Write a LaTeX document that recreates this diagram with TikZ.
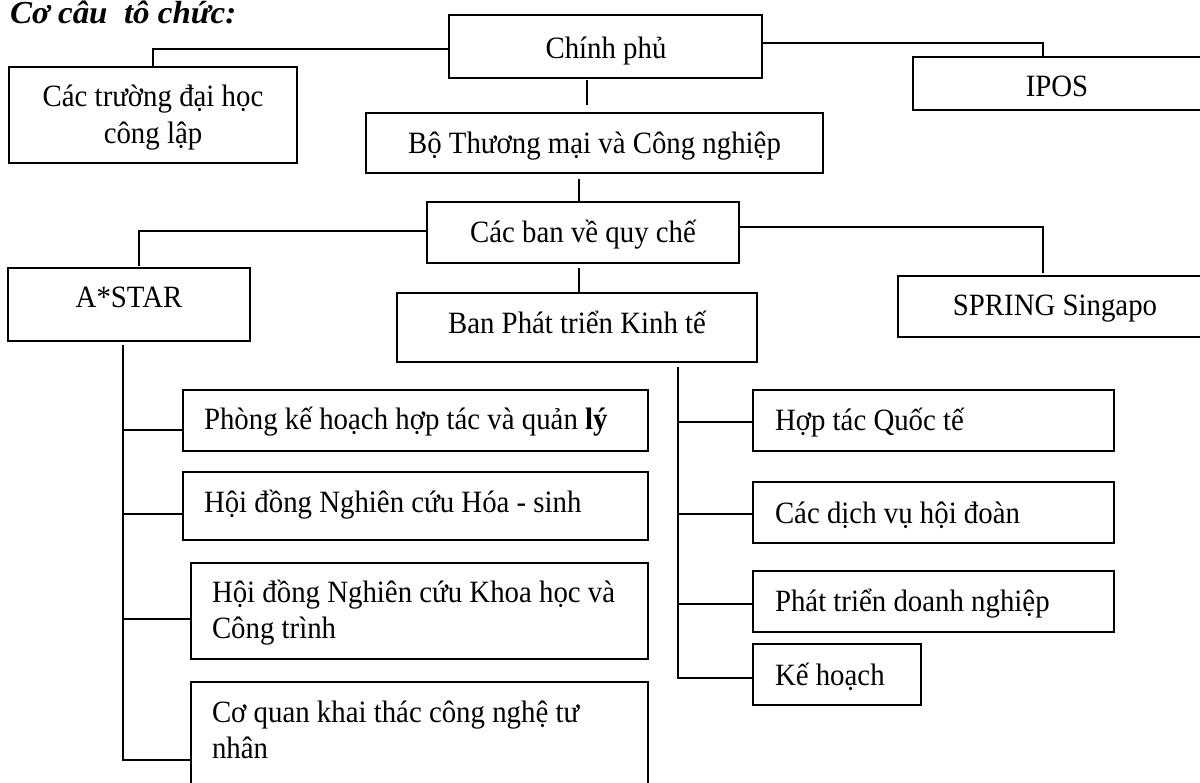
\documentclass[tikz,border=0pt]{standalone}
\usepackage{fontspec}
\setmainfont{Liberation Serif}[FakeStretch=0.93]
\newfontfamily\ttlfont{Liberation Serif}[FakeStretch=1.03]
\usetikzlibrary{calc}
\newcommand\twoc[2]{\vtop{\baselineskip=37pt\lineskiplimit=-100pt\halign{\hfil##\hfil\cr#1\cr#2\cr}}}
\newcommand\twol[2]{\vtop{\baselineskip=36pt\lineskiplimit=-100pt\halign{##\hfil\cr#1\cr#2\cr}}}
\newcommand\obox[5]{\node[orgbox, minimum width={#4-#2}, minimum height={#5-#3}] (#1) at ({(#2+#4)/2},{(#3+#5)/2}) {};}
\begin{document}
\begin{tikzpicture}[x=1pt,y=-1pt,
  orgbox/.style={draw=black, line width=2.2pt, inner sep=0pt, outer sep=0pt},
  txt/.style={inner sep=0pt, outer sep=0pt, font=\fontsize{31}{36}\selectfont},
  conn/.style={draw=black, line width=2pt}]
\fill[white] (0,0) rectangle (1200,783);
\useasboundingbox (0,0) rectangle (1200,783);
% title
\node[inner sep=0pt, anchor=base west, font=\ttlfont\fontsize{32}{36}\selectfont\bfseries\itshape] (ttl) at (10,24) {Cơ câu\ \ tô chức:};
% boxes
\obox{cp}{449}{15}{762}{78}
\obox{ctr}{9}{67}{297}{163}
\obox{ipos}{913}{57}{1201}{110}
\obox{bo}{366}{113}{823}{173}
\obox{cb}{427}{202}{739}{263}
\obox{astar}{8}{268}{250}{341}
\obox{bpt}{397}{293}{757}{362}
\obox{spring}{898}{276}{1212}{337}
\obox{phong}{183}{390}{648}{451}
\obox{hoa}{183}{472}{648}{540}
\obox{khoa}{191}{563}{648}{659}
\obox{coq}{191}{682}{648}{800}
\obox{hop}{753}{390}{1114}{451}
\obox{dv}{753}{482}{1114}{543}
\obox{ptdn}{753}{571}{1114}{632}
\obox{kh}{753}{644}{921}{705}
% texts
\node[txt, anchor=base] (cpT) at (606,59) {Chính phủ};
\node[txt, anchor=base] (ctrT) at (153,107) {\twoc{Các trường đại học}{công lập}};
\node[txt, anchor=base] (iposT) at (1057,97) {IPOS};
\node[txt, anchor=base] (boT) at (594.5,154) {Bộ Thương mại và Công nghiệp};
\node[txt, anchor=base] (cbT) at (583,243) {Các ban về quy chế};
\node[txt, anchor=base] (astarT) at (129,308) {A*STAR};
\node[txt, anchor=base] (bptT) at (577,334) {Ban Phát triển Kinh tế};
\node[txt, anchor=base] (springT) at (1055,316) {SPRING Singapo};
\node[txt, anchor=base west] (phongT) at (204,430) {Phòng kế hoạch hợp tác và quản \textbf{lý}};
\node[txt, anchor=base west] (hoaT) at (204,512) {Hội đồng Nghiên cứu Hóa - sinh};
\node[txt, anchor=base west] (khoaT) at (212,602) {\twol{Hội đồng Nghiên cứu Khoa học và}{Công trình}};
\node[txt, anchor=base west] (coqT) at (212,722) {\twol{Cơ quan khai thác công nghệ tư}{nhân}};
\node[txt, anchor=base west] (hopT) at (775,431) {Hợp tác Quốc tế};
\node[txt, anchor=base west] (dvT) at (775,523) {Các dịch vụ hội đoàn};
\node[txt, anchor=base west] (ptdnT) at (775,611) {Phát triển doanh nghiệp};
\node[txt, anchor=base west] (khT) at (775,685) {Kế hoạch};
% connectors
\draw[conn] ([yshift=-2.5pt]cp.west) -| (ctr.north);
\draw[conn] ([yshift=3.5pt]cp.east) -| ($(ipos.north)+(-14,0)$);
\draw[conn] ($(cp.south)+(-18.5,2)$) -- ($(bo.north)+(-7.5,-8)$);
\draw[conn] ($(bo.south)+(-15.5,6)$) -- ($(cb.north)+(-4,-1)$);
\draw[conn] ($(cb.west)+(0,-1.5)$) -| ($(astar.north)+(10,-2)$);
\draw[conn] ($(cb.east)+(0,-5.5)$) -| ($(spring.north)+(-12,-3)$);
\draw[conn] ($(cb.south)+(-4,5)$) -- ($(bpt.north)+(2,0)$);
\coordinate (lt) at ($(astar.south)+(-6,4)$);
\draw[conn] ([yshift=-19pt]coq.west) -| (lt);
\draw[conn] ([yshift=-9.5pt]phong.west) -| (lt);
\draw[conn] ([yshift=-8pt]hoa.west) -| (lt);
\draw[conn] ([yshift=-8pt]khoa.west) -| (lt);
\coordinate (rt) at ($(bpt.south)+(101,5)$);
\draw[conn] ([yshift=-3.5pt]kh.west) -| (rt);
\draw[conn] ([yshift=-1.5pt]hop.west) -| (rt);
\draw[conn] ([yshift=-1.5pt]dv.west) -| (rt);
\draw[conn] ([yshift=-2.5pt]ptdn.west) -| (rt);
\end{tikzpicture}
\end{document}
